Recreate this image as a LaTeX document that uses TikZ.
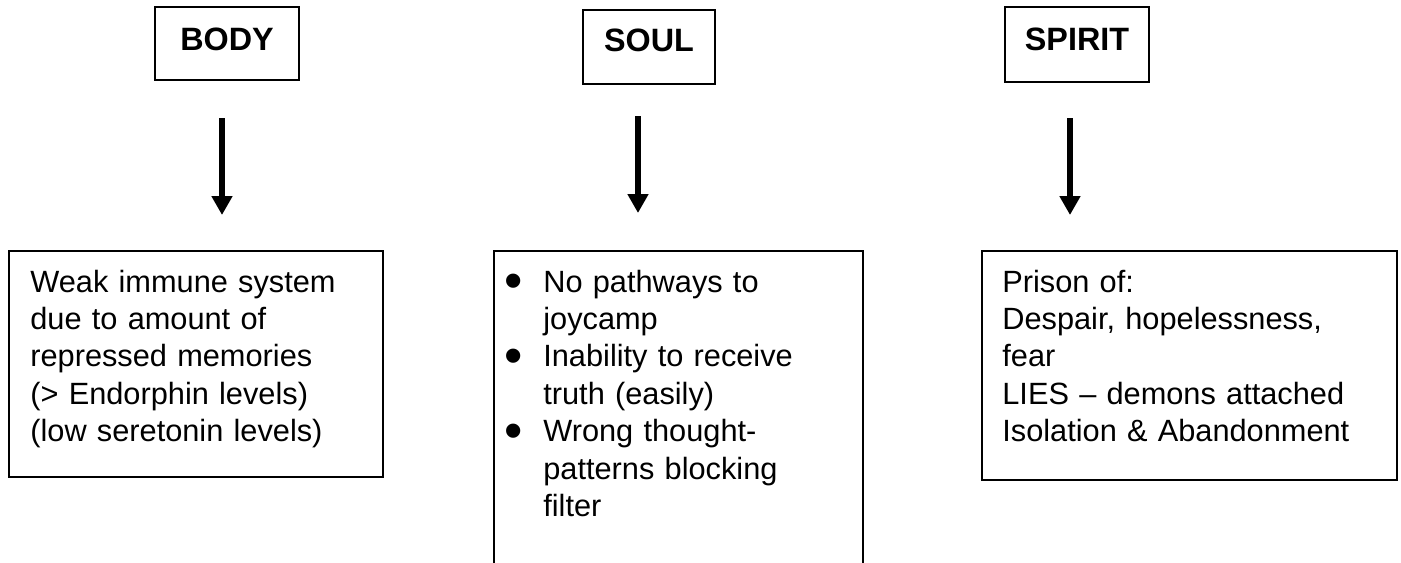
\documentclass[tikz,border=0pt]{standalone}
\usepackage{graphicx}
\usepackage{fontspec}
\setmainfont{Liberation Sans}
\usetikzlibrary{arrows.meta}

\tikzset{
	headbox/.style={draw, line width=0.035cm, inner sep=0pt, font=\fontsize{18.4pt}{22pt}\selectfont\bfseries, text height=0.46cm, text depth=0.2cm},
	infobox/.style={draw, line width=0.035cm, inner sep=0pt, anchor=north west},
	infotext/.style={anchor=base west, inner sep=0pt, align=left, text width=8.5cm, font=\fontsize{17.5pt}{21.3pt}\selectfont},
	downarrow/.style={line width=0.12cm, -{Triangle[width=0.4cm,length=0.38cm]}}
}
\newcommand{\itembullet}{\makebox[0.92cm][l]{\hspace{0.14cm}\raisebox{-0.13cm}{\scalebox{1.7}{\textbullet}}}}

\begin{document}
\begin{tikzpicture}[x=0.02cm,y=-0.02cm]% one unit = one pixel, y downwards
	\useasboundingbox (0,0) rectangle (1401,562);
	\clip (0,0) rectangle (1401,562);
	
	% top boxes
	\node[headbox, minimum width=2.88cm, minimum height=1.46cm] (body) at (227,43.5) {BODY};
	\node[headbox, minimum width=2.64cm, minimum height=1.48cm, text depth=0.28cm] (soul) at (649,47) {SOUL};
	\node[headbox, minimum width=2.88cm, minimum height=1.5cm, text depth=0.24cm] (spirit) at (1077,44.5) {SPIRIT};
	
	% arrows
	\coordinate (bodyfrom) at (222,118);
	\coordinate (bodyto) at (222,215);
	\coordinate (soulfrom) at (638,116);
	\coordinate (soulto) at (638,213);
	\coordinate (spiritfrom) at (1070,118);
	\coordinate (spiritto) at (1070,215);
	\draw[downarrow] (bodyfrom) -- (bodyto);
	\draw[downarrow] (soulfrom) -- (soulto);
	\draw[downarrow] (spiritfrom) -- (spiritto);
	
	% bottom boxes
	\node[infobox, minimum width=7.48cm, minimum height=4.52cm] (bodybox) at (8,250) {};
	\node[infobox, minimum width=7.38cm, minimum height=6.6cm] (soulbox) at (493,250) {};
	\node[infobox, minimum width=8.3cm, minimum height=4.58cm] (spiritbox) at (981,250) {};
	
	\node[infotext] (bodytext) at (30,292) {Weak immune system\\due to amount of\\repressed memories\\(> Endorphin levels)\\(low seretonin levels)};
	\node[infotext] (soultext) at (497,292) {\itembullet No pathways to\\\hspace*{0.92cm}joycamp\\\itembullet Inability to receive\\\hspace*{0.92cm}truth (easily)\\\itembullet Wrong thought-\\\hspace*{0.92cm}patterns blocking\\\hspace*{0.92cm}filter};
	\node[infotext] (spirittext) at (1002,292) {Prison of:\\Despair, hopelessness,\\fear\\LIES – demons attached\\Isolation \& Abandonment};
\end{tikzpicture}
\end{document}
